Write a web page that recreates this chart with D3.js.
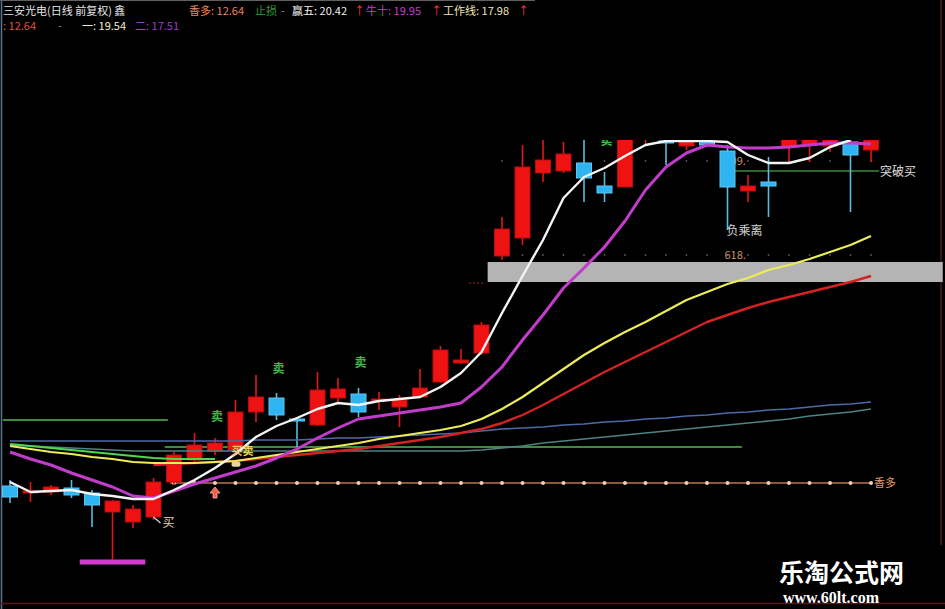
<!DOCTYPE html>
<html><head><meta charset="utf-8">
<script src="https://cdn.jsdelivr.net/npm/d3@7"></script>
<style>html,body{margin:0;background:#000;overflow:hidden}svg{display:block}</style>
</head><body>
<svg id="chart" width="945" height="609"></svg>
<script>
// Daily bars (price units)
const opens  = [12.565,12.39,12.415,12.515,12.39,11.915,11.665,11.79,12.665,13.215,13.44,13.465,14.415,14.765,14.24,14.09,14.765,14.865,14.69,14.54,14.79,15.165,15.64,15.89,18.315,18.765,20.39,20.44,20.64,20.065,20.04,21.24,21.19,21.065,21.19,20.94,19.94,20.165,21.04,21.09,21.065,21.165,20.965];
const highs  = [12.715,12.665,12.59,12.715,12.465,12.215,12.09,12.765,13.415,13.89,13.765,14.715,15.34,14.89,14.29,15.415,15.265,15.015,14.915,14.84,15.49,16.065,15.99,16.665,19.29,21.09,21.34,21.165,21.265,20.415,21.465,21.665,21.34,21.34,21.315,21.09,20.34,20.79,21.415,21.415,21.39,21.265,21.34];
const lows   = [12.14,12.165,12.34,12.265,11.54,10.715,11.515,11.715,12.59,13.165,13.34,13.415,14.165,14.215,13.54,14.065,14.665,14.29,14.465,14.04,14.765,15.14,15.615,15.84,18.215,18.59,20.165,20.39,19.665,19.665,20.04,21.065,20.59,20.965,21.04,18.965,19.665,19.29,20.665,20.665,20.915,19.415,20.665];
const closes = [12.29,12.44,12.54,12.34,12.09,12.19,11.99,12.665,13.34,13.59,13.64,14.415,14.79,14.34,14.19,14.965,14.99,14.415,14.74,14.715,15.015,15.965,15.715,16.59,18.99,20.54,20.715,20.865,20.265,19.89,21.34,21.515,21.14,21.19,21.09,20.04,20.065,20.065,21.265,21.265,21.24,20.84,21.215];

// Indicator lines
const lineYing5 = [12.665,12.415,12.44,12.465,12.365,12.315,12.24,12.24,12.465,12.715,13.015,13.365,13.79,14.065,14.265,14.49,14.64,14.59,14.69,14.74,14.79,15.04,15.39,15.915,16.89,17.815,18.715,19.765,20.29,20.515,20.815,21.09,21.19,21.19,21.19,21.165,20.84,20.64,20.64,20.765,21.04,21.215,null];
const lineNiu10 = [13.415,13.24,13.09,12.89,12.715,12.54,12.315,12.265,12.44,12.615,12.765,12.915,13.065,13.265,13.49,13.765,14.015,14.24,14.315,14.39,14.465,14.54,14.64,15.04,15.54,16.215,16.84,17.515,18.015,18.54,19.19,19.965,20.54,20.89,21.09,21.04,21.015,21.015,21.04,21.09,21.14,21.14,21.115];
const lineYi    = [13.565,13.49,13.415,13.365,13.29,13.24,13.165,13.14,13.14,13.14,13.165,13.19,13.265,13.34,13.415,13.49,13.565,13.64,13.74,13.815,13.89,13.965,14.065,14.24,14.49,14.79,15.14,15.49,15.84,16.14,16.415,16.665,16.94,17.215,17.415,17.615,17.765,17.965,18.09,18.24,18.415,18.59,18.815];
const lineEr    = [null,null,null,null,null,null,null,13.09,13.115,13.14,13.165,13.19,13.24,13.29,13.34,13.39,13.44,13.49,13.565,13.64,13.715,13.79,13.89,13.99,14.14,14.34,14.59,14.865,15.14,15.415,15.665,15.915,16.165,16.415,16.665,16.84,17.015,17.165,17.29,17.415,17.54,17.665,17.815];
const lineLong  = [13.69,13.69,13.69,13.69,13.69,13.69,13.69,13.69,13.69,13.69,13.69,13.69,13.715,13.715,13.715,13.74,13.765,13.765,13.79,13.815,13.84,13.865,13.89,13.94,13.99,14.015,14.04,14.09,14.115,14.165,14.19,14.24,14.265,14.315,14.34,14.39,14.415,14.465,14.49,14.54,14.59,14.615,14.665];
const lineLong2 = [13.59,13.565,13.54,13.515,13.49,13.465,13.44,13.44,13.44,13.44,13.44,13.44,13.44,13.44,13.44,13.44,13.44,13.44,13.44,13.44,13.44,13.44,13.44,13.465,13.515,13.565,13.64,13.69,13.74,13.79,13.84,13.89,13.94,13.99,14.04,14.09,14.14,14.19,14.24,14.315,14.365,14.415,14.49];
const lineWork  = [13.615,13.565,13.515,13.465,13.415,13.365,13.315,13.265,13.24,13.24,13.24,null,null,null,null,null,null,null,null,null,null,null,null,null,null,null,null,null,null,null,null,null,null,null,null,null,null,null,null,null,null,null,null];

// Horizontal levels: [price, from index, to index]
const xiangDuo   = 12.64;
const supportTop = [14.215, -0.35, 7.7];
const supportMid = [13.54, 7.55, 35.7];
const breakBuy   = [20.44, 35.3, 42.4];
const fibBand    = [17.665, 18.165, 23.3, 45.5];
const fibLevels  = [20.69, 18.34];
const fibLabels  = ["809.", "618."];
const lowMark    = [10.665, 3.4, 6.6];

// Signal markers: [index, price]
const sellMarks = [[10, 14.2], [13, 15.4], [17, 15.55], [29, 21.1]];
const headerRow1 = [
  {t:"三安光电(日线 前复权) 鑫", x:3, c:"#e6e6e6"},
  {t:"香多: 12.64", x:189, c:"#e8865a"},
  {t:"止损", x:255, c:"#2f9a35"},
  {t:"-", x:281, c:"#8a8a8a"},
  {t:"赢五: 20.42", x:292, c:"#f2f2f2"},
  {t:"↑", x:354, c:"#ff3b3b"},
  {t:"牛十: 19.95", x:366, c:"#c13fcf"},
  {t:"↑", x:431, c:"#ff3b3b"},
  {t:"工作线: 17.98", x:443, c:"#efe6b8"},
  {t:"↑", x:518, c:"#ff3b3b"}
];
const headerRow2 = [
  {t:": 12.64", x:3, c:"#e0503e"},
  {t:"-", x:58, c:"#8a8a8a"},
  {t:"一: 19.54", x:82, c:"#efeccc"},
  {t:"二: 17.51", x:135, c:"#9b3fc6"}
];

const svg = d3.select("#chart");
const x = d3.scaleLinear().domain([0, 42]).range([10, 871]);
const y = d3.scaleLinear().domain([12.64, 21.215]).range([483, 140]);
const FONT = "'Noto Sans CJK SC','Noto Sans',sans-serif";

svg.append("rect").attr("width",945).attr("height",609).attr("fill","#000");

// frame
svg.append("line").attr("x1",1.5).attr("x2",1.5).attr("y1",0).attr("y2",609).attr("stroke","#5a7590").attr("stroke-width",1.5);
svg.append("line").attr("x1",0).attr("x2",535).attr("y1",0.5).attr("y2",0.5).attr("stroke","#606060");
svg.append("line").attr("x1",941).attr("x2",941).attr("y1",0).attr("y2",545).attr("stroke","#3a1414").attr("stroke-width",2);
svg.append("line").attr("x1",0).attr("x2",945).attr("y1",603.5).attr("y2",603.5).attr("stroke","#5a1818").attr("stroke-width",1.5);

// header
const hdr = svg.append("g").attr("font-family",FONT).attr("font-size",11);
hdr.selectAll("text.r1").data(headerRow1).join("text").attr("class","r1")
  .attr("x",d=>d.x).attr("y",14.5).attr("fill",d=>d.c).text(d=>d.t);
hdr.selectAll("text.r2").data(headerRow2).join("text").attr("class","r2")
  .attr("x",d=>d.x).attr("y",30).attr("fill",d=>d.c).text(d=>d.t);

const plot = svg.append("g");
svg.append("clipPath").attr("id","pane").append("rect").attr("x",0).attr("y",140).attr("width",945).attr("height",460);
const pane = plot.append("g").attr("clip-path","url(#pane)");

// fib band
pane.append("rect").attr("x",x(fibBand[2])).attr("width",x(fibBand[3])-x(fibBand[2]))
  .attr("y",y(fibBand[1])).attr("height",y(fibBand[0])-y(fibBand[1])).attr("fill","#b4b4b4");
pane.append("line").attr("x1",x(22.4)).attr("x2",x(23.2)).attr("y1",y(fibBand[0])+1).attr("y2",y(fibBand[0])+1)
  .attr("stroke","#b02020").attr("stroke-dasharray","2,2");

// fib dotted levels
const idxTop = d3.range(24, 43);
fibLevels.forEach((lv,i)=>{
  pane.selectAll(null).data(idxTop).join("circle").attr("cx",d=>x(d)).attr("cy",y(lv)).attr("r",0.9).attr("fill","#5a5a5a");
  pane.append("text").attr("x",x(34.85)).attr("y",y(lv)+4).attr("font-family",FONT).attr("font-size",11)
    .attr("fill","#c8906a").text(fibLabels[i]);
});

// horizontal support lines
[supportTop, supportMid].forEach(s=>{
  pane.append("line").attr("x1",x(s[1])).attr("x2",x(s[2])).attr("y1",y(s[0])).attr("y2",y(s[0]))
    .attr("stroke","#3e8a40").attr("stroke-width",2);
});
pane.append("line").attr("x1",x(breakBuy[1])).attr("x2",x(breakBuy[2])).attr("y1",y(breakBuy[0])).attr("y2",y(breakBuy[0]))
  .attr("stroke","#3a8a3a").attr("stroke-width",1.5);

// 香多 dotted line
const xdIdx = d3.range(8, 43);
pane.append("line").attr("x1",x(7.8)).attr("x2",x(42)).attr("y1",y(xiangDuo)).attr("y2",y(xiangDuo))
  .attr("stroke","#b8744a").attr("stroke-width",1.6);
pane.selectAll(null).data(xdIdx).join("circle").attr("cx",d=>x(d)).attr("cy",y(xiangDuo)).attr("r",2).attr("fill","#f3cfb0");

// low mark bar
pane.append("rect").attr("x",x(lowMark[1])).attr("width",x(lowMark[2])-x(lowMark[1]))
  .attr("y",y(lowMark[0])-2.5).attr("height",5).attr("fill","#d23cd2");

// candles
const bars = d3.range(opens.length).map(i=>({i,o:opens[i],h:highs[i],l:lows[i],c:closes[i]}));
const up = d=>d.c>=d.o;
const cg = pane.append("g");
cg.selectAll("line.wick").data(bars).join("line").attr("class","wick")
  .attr("x1",d=>x(d.i)).attr("x2",d=>x(d.i)).attr("y1",d=>y(d.h)).attr("y2",d=>y(d.l))
  .attr("stroke",d=>up(d)?"#e01818":"#58bde0").attr("stroke-width",1.6);
cg.selectAll("rect.body").data(bars).join("rect").attr("class","body")
  .attr("x",d=>x(d.i)-7.5).attr("width",15)
  .attr("y",d=>y(Math.max(d.o,d.c))).attr("height",d=>Math.max(2,Math.abs(y(d.o)-y(d.c))))
  .attr("fill",d=>up(d)?"#ee1212":"#2fb4f2").attr("stroke",d=>up(d)?"#b80c0c":"#5cc8f5").attr("stroke-width",1);

// indicator lines
const lg = d3.line().defined(v=>v!=null).x((v,i)=>x(i)).y(v=>y(v)).curve(d3.curveLinear);
const series = [
  {d:lineLong,  c:"#4c6aa8", w:1.6},
  {d:lineLong2, c:"#4f8282", w:1.6},
  {d:lineWork,  c:"#4fd84a", w:2},
  {d:lineEr,    c:"#d42222", w:2.4},
  {d:lineYi,    c:"#ecec5a", w:2.2},
  {d:lineNiu10, c:"#c23ccc", w:3},
  {d:lineYing5, c:"#f4f4f4", w:2.4}
];
series.forEach(s=>{
  pane.append("path").attr("d",lg(s.d)).attr("fill","none").attr("stroke",s.c).attr("stroke-width",s.w)
    .attr("stroke-linejoin","round");
});

// sell markers
pane.selectAll("text.sell").data(sellMarks).join("text").attr("class","sell")
  .attr("x",d=>x(d[0])+2).attr("y",d=>y(d[1])).attr("text-anchor","middle")
  .attr("font-family",FONT).attr("font-size",12).attr("font-weight",700).attr("fill","#3fb84a").text("卖");

// buy markers
pane.append("line").attr("x1",x(7)).attr("y1",y(lows[7])-3).attr("x2",x(7)+7).attr("y2",y(lows[7])+3)
  .attr("stroke","#d8d8d8").attr("stroke-width",1.2);
pane.append("text").attr("x",x(7)+9).attr("y",y(lows[7])+7).attr("font-family",FONT).attr("font-size",12)
  .attr("fill","#e8d8b0").text("买");
pane.append("text").attr("x",x(11)-4).attr("y",y(13.44)+4).attr("font-family",FONT).attr("font-size",11)
  .attr("font-weight",700).attr("fill","#e8d060").text("买卖");
pane.append("rect").attr("x",x(11)-4).attr("y",y(13.17)).attr("width",9).attr("height",5).attr("rx",2).attr("fill","#e6d59a");

// up arrow below 香多
const ax = x(10), ay = y(xiangDuo)+4;
pane.append("path").attr("d",`M${ax},${ay} l-5,6 h3 v5 h4 v-5 h3 z`).attr("fill","#f06050").attr("stroke","#ffb0a0").attr("stroke-width",0.8);

// labels in upper pane
pane.append("text").attr("x",x(35)-1).attr("y",y(18.99)+6).attr("font-family",FONT).attr("font-size",12)
  .attr("fill","#d8d8d8").text("负乘离");
pane.append("text").attr("x",x(42)+9).attr("y",y(breakBuy[0])+5).attr("font-family",FONT).attr("font-size",12)
  .attr("fill","#e0e0e0").text("突破买");
pane.append("text").attr("x",x(42)+3).attr("y",y(xiangDuo)+4).attr("font-family",FONT).attr("font-size",11)
  .attr("fill","#e49a6a").text("香多");

// site mark
svg.append("text").attr("x",779).attr("y",582).attr("font-family",FONT).attr("font-size",25).attr("font-weight",700)
  .attr("fill","#ffffff").text("乐淘公式网");
svg.append("text").attr("x",783).attr("y",603).attr("font-family","'Liberation Serif','DejaVu Serif',serif").attr("font-size",16)
  .attr("font-weight",700).attr("fill","#ffffff").text("www.60lt.com");
</script>
</body></html>
